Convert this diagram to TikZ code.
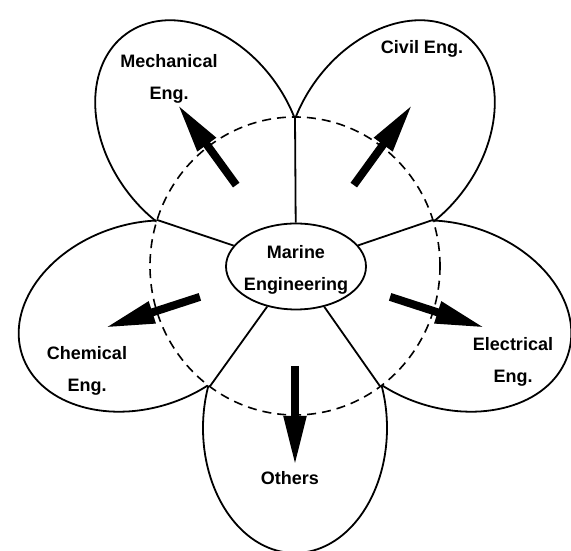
\documentclass[tikz,border=0pt]{standalone}
\usepackage{fontspec}
\setmainfont{Liberation Sans}
\usetikzlibrary{arrows.meta,shapes.geometric}
\begin{document}
\begin{tikzpicture}[x=1pt,y=1pt,
  outline/.style={line width=1.8pt, draw=black},
  dashring/.style={line width=1.6pt, dash pattern=on 9pt off 6pt},
  bigarrow/.style={line width=8pt, -{Triangle[length=50pt,width=21pt]}},
  lbl/.style={font=\bfseries\fontsize{18}{32}\selectfont, align=center, inner sep=0pt}]
\useasboundingbox (0,0) rectangle (571,551);
\coordinate (O) at (295,285);
% petals
\foreach \t in {126,54,-18,-90,198}{
  \begin{scope}[shift={(295,285)}, rotate=\t]
    \draw[outline] (162,0) ellipse [x radius=125, y radius=92];
  \end{scope}
}
\fill[white] (O) ellipse [x radius=145, y radius=149];
\draw[dashring] (O) ellipse [x radius=145, y radius=149];
% centre
\node[outline, ellipse, minimum width=140pt, minimum height=86pt, inner sep=0pt] (m) at (296,284.5) {};
\node[lbl] (mt) at (296,281) {Marine\\Engineering};
% junction lines
\foreach \p [count=\i] in {90,18,-54,-126,162}{
  \path (O) ++(\p:145 and 149) coordinate (j\i);
  \draw[outline] (j\i) -- (m);
}
% arrows
\foreach \t [count=\i] in {126,54,-18,-90,198}{
  \path (O) ++(\t:100) coordinate (as\i);
  \path (O) ++(\t:200) coordinate (ae\i);
  \draw[bigarrow] (as\i) -- (ae\i);
}
% labels
\node[lbl] (mech) at (169,472) {Mechanical\\Eng.};
\node[lbl] (civil) at (422,502) {Civil Eng.};
\node[lbl] (chem) at (87,180.5) {Chemical\\Eng.};
\node[lbl] (elec) at (513,189) {Electrical\\Eng.};
\node[lbl] (oth) at (290,73) {Others};
\end{tikzpicture}
\end{document}
